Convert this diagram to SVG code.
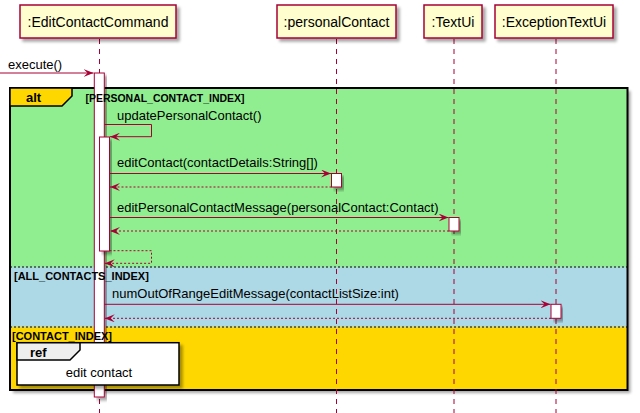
<svg xmlns="http://www.w3.org/2000/svg" width="640" height="413" viewBox="0 0 640 413">
<style>
.part{fill:#FEFECE;stroke:#A80036;stroke-width:1.5}
.ptxt{font-family:"Liberation Sans",Arial,sans-serif;font-size:14px;fill:#000;text-anchor:middle}
.life{stroke:#A80036;stroke-width:1;stroke-dasharray:5,5;fill:none}
.act{fill:#FFFFFF;stroke:#A80036;stroke-width:1}
.msg{stroke:#A80036;stroke-width:1;fill:none}
.ret{stroke:#A80036;stroke-width:1;fill:none;stroke-dasharray:2,2}
.mtxt{font-family:"Liberation Sans",Arial,sans-serif;font-size:13px;fill:#000}
.btxt{font-family:"Liberation Sans",Arial,sans-serif;font-size:11px;font-weight:bold;fill:#000}
.sep{stroke:#000;stroke-width:1;stroke-dasharray:2,2}
</style>
<defs>
<filter id="sh" x="-10%" y="-10%" width="130%" height="140%">
<feGaussianBlur in="SourceAlpha" stdDeviation="1.5"/>
<feOffset dx="3" dy="3"/>
<feComponentTransfer><feFuncA type="linear" slope="0.35"/></feComponentTransfer>
<feMerge><feMergeNode/><feMergeNode in="SourceGraphic"/></feMerge>
</filter>
<marker id="ah" viewBox="0 0 10 8" refX="10" refY="4" markerWidth="10" markerHeight="8" markerUnits="userSpaceOnUse" orient="auto">
<path d="M0,0 L10,4 L0,8 L4,4 Z" fill="#A80036"/>
</marker>
</defs>

<!-- alt frame background -->
<g id="alt-frame">
<rect x="10" y="88" width="617.5" height="302" fill="#90EE90" filter="url(#sh)"/>
<rect x="10" y="267" width="617.5" height="60" fill="#ADD8E6"/>
<rect x="10" y="327" width="617.5" height="63" fill="#FFD700"/>
<line class="sep" x1="10" y1="267" x2="627.5" y2="267"/>
<line class="sep" x1="10" y1="327" x2="627.5" y2="327"/>
<rect x="10" y="88" width="617.5" height="302" fill="none" stroke="#000" stroke-width="2"/>
<path d="M10,88 L72,88 L72,96 L62,106 L10,106 Z" fill="#FFD700" stroke="#000" stroke-width="1.5"/>
<text x="26" y="102" class="mtxt" font-weight="bold">alt</text>
</g>

<!-- lifelines -->
<g id="lifelines">
<line class="life" x1="99.5" y1="39" x2="99.5" y2="413"/>
<line class="life" x1="336.5" y1="39" x2="336.5" y2="413"/>
<line class="life" x1="454" y1="39" x2="454" y2="413"/>
<line class="life" x1="556" y1="39" x2="556" y2="413"/>
</g>

<!-- participants -->
<g id="EditContactCommand">
<rect class="part" x="20" y="5" width="156" height="33" filter="url(#sh)"/>
<text class="ptxt" x="98" y="27">:EditContactCommand</text>
<rect class="act" x="94.3" y="73" width="10" height="324" filter="url(#sh)"/>
<rect class="act" x="99.5" y="137" width="10" height="114" filter="url(#sh)"/>
</g>
<g id="personalContact">
<rect class="part" x="277" y="5" width="119" height="33" filter="url(#sh)"/>
<text class="ptxt" x="336.5" y="27">:personalContact</text>
<rect class="act" x="331.5" y="173.5" width="10" height="13.5" filter="url(#sh)"/>
</g>
<g id="TextUi">
<rect class="part" x="424" y="5" width="58" height="33" filter="url(#sh)"/>
<text class="ptxt" x="453" y="27">:TextUi</text>
<rect class="act" x="449" y="217.5" width="10" height="13.5" filter="url(#sh)"/>
</g>
<g id="ExceptionTextUi">
<rect class="part" x="495" y="5" width="118" height="33" filter="url(#sh)"/>
<text class="ptxt" x="554" y="27">:ExceptionTextUi</text>
<rect class="act" x="551" y="304.3" width="10" height="14" filter="url(#sh)"/>
</g>

<!-- guard labels -->
<g id="guards">
<text class="btxt" x="85.5" y="102" textLength="159" lengthAdjust="spacingAndGlyphs">[PERSONAL_CONTACT_INDEX]</text>
<text class="btxt" x="14" y="280">[ALL_CONTACTS_INDEX]</text>
<text class="btxt" x="12" y="339.5">[CONTACT_INDEX]</text>
</g>

<!-- connectors -->
<g id="connectors">
<line class="msg" x1="0" y1="73" x2="93.5" y2="73" marker-end="url(#ah)"/>
<text class="mtxt" x="8" y="68.5">execute()</text>

<polyline class="msg" points="104.3,124.5 151.5,124.5 151.5,136.7 110,136.7" marker-end="url(#ah)"/>
<text class="mtxt" x="117" y="120">updatePersonalContact()</text>

<line class="msg" x1="109.5" y1="173.5" x2="331" y2="173.5" marker-end="url(#ah)"/>
<text class="mtxt" x="117" y="167">editContact(contactDetails:String[])</text>
<line class="ret" x1="331.5" y1="187" x2="110" y2="187" marker-end="url(#ah)"/>

<line class="msg" x1="109.5" y1="217.5" x2="448.5" y2="217.5" marker-end="url(#ah)"/>
<text class="mtxt" x="117" y="211.5">editPersonalContactMessage(personalContact:Contact)</text>
<line class="ret" x1="449" y1="231" x2="110" y2="231" marker-end="url(#ah)"/>

<polyline class="ret" points="109.5,250.7 151.5,250.7 151.5,263.3 104.8,263.3" marker-end="url(#ah)"/>

<line class="msg" x1="104.3" y1="304.3" x2="550.5" y2="304.3" marker-end="url(#ah)"/>
<text class="mtxt" x="112" y="298">numOutOfRangeEditMessage(contactListSize:int)</text>
<line class="ret" x1="551" y1="318.3" x2="104.8" y2="318.3" marker-end="url(#ah)"/>
</g>

<!-- ref -->
<g id="ref-edit-contact">
<rect x="17" y="342.7" width="162" height="42.3" fill="#FFFFFF" stroke="#000" stroke-width="1.5" filter="url(#sh)"/>
<path d="M17,342.7 L80,342.7 L80,350 L70,360 L17,360 Z" fill="#EEEEEE" stroke="#000" stroke-width="1.5"/>
<text x="30" y="357" class="mtxt" font-weight="bold">ref</text>
<text x="99" y="377" class="mtxt" text-anchor="middle">edit contact</text>
</g>
</svg>
